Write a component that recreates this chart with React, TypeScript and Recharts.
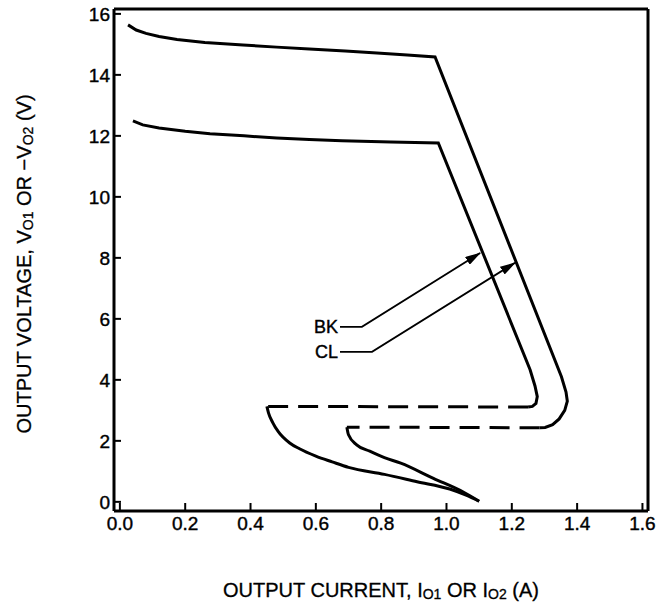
import React from "react";
import { LineChart, Line, XAxis, YAxis, ReferenceDot } from "recharts";

// axis ticks
const X_TICKS = [0, 0.2, 0.4, 0.6, 0.8, 1.0, 1.2, 1.4, 1.6];
const Y_TICKS = [0, 2, 4, 6, 8, 10, 12, 14, 16];
const X_DOMAIN: [number, number] = [-0.018, 1.617];
const Y_DOMAIN: [number, number] = [-0.3, 16.16];

// [current (A), voltage (V)]
const CL_MAIN: [number, number][] = [
  [0.025, 15.64], [0.05, 15.47], [0.08, 15.36], [0.12, 15.26], [0.175, 15.16],
  [0.26, 15.06], [0.377, 14.98], [0.48, 14.91], [0.58, 14.85], [0.69, 14.78],
  [0.787, 14.72], [0.88, 14.65], [0.965, 14.59], [1.352, 4.1], [1.366, 3.6],
  [1.37, 3.3], [1.362, 3.0], [1.345, 2.72], [1.325, 2.53], [1.302, 2.44], [1.285, 2.43],
];
const CL_DASH: [number, number][] = [[1.285, 2.43], [0.695, 2.45]];
const CL_TAIL: [number, number][] = [
  [0.695, 2.45], [0.7, 2.2], [0.725, 1.87], [0.765, 1.66], [0.81, 1.45],
  [0.86, 1.27], [0.96, 0.77], [1.05, 0.33], [1.1, 0.02],
];

const BK_MAIN: [number, number][] = [
  [0.04, 12.49], [0.07, 12.36], [0.12, 12.26], [0.2, 12.15], [0.276, 12.07],
  [0.38, 12.0], [0.48, 11.93], [0.58, 11.88], [0.68, 11.84], [0.83, 11.8],
  [0.975, 11.77], [1.256, 4.33], [1.271, 3.8], [1.278, 3.45], [1.274, 3.23],
  [1.263, 3.13], [1.25, 3.11],
];
const BK_DASH: [number, number][] = [[1.25, 3.11], [0.45, 3.13]];
const BK_TAIL: [number, number][] = [
  [0.45, 3.13], [0.455, 2.92], [0.468, 2.6], [0.485, 2.3], [0.52, 1.93],
  [0.55, 1.74], [0.6, 1.5], [0.65, 1.31], [0.7, 1.13], [0.81, 0.9],
  [0.91, 0.66], [1.01, 0.42], [1.06, 0.22], [1.1, 0.02],
];

// leader lines for the labels
const BK_LEADER: [number, number][] = [[0.674, 5.74], [0.741, 5.74], [1.103, 8.16]];
const CL_LEADER: [number, number][] = [[0.674, 4.92], [0.772, 4.92], [1.21, 7.84]];

const FONT = "'Liberation Sans', Arial, Helvetica, sans-serif";

const pts = (arr: [number, number][]) => arr.map(([i, v]) => ({ i, v }));

const XTitle = (props: any) => {
  const vb = props.viewBox;
  const cx = vb.x + vb.width / 2;
  const y = vb.y + 86;
  return (
    <text x={cx} y={y} textAnchor="middle" fontFamily={FONT} fontSize={20} fill="#000" stroke="#000" strokeWidth={0.3}>
      OUTPUT CURRENT, I<tspan fontSize={14} dy={2}>O1</tspan>
      <tspan dy={-2}> OR I</tspan>
      <tspan fontSize={14} dy={2}>O2</tspan>
      <tspan dy={-2}> (A)</tspan>
    </text>
  );
};

const YTitle = (props: any) => {
  const vb = props.viewBox;
  const x = vb.x + 31;
  const y = vb.y + vb.height / 2 + 4;
  return (
    <text
      x={x}
      y={y}
      transform={`rotate(-90, ${x}, ${y})`}
      textAnchor="middle"
      fontFamily={FONT}
      fontSize={20}
      fill="#000"
      stroke="#000"
      strokeWidth={0.3}
    >
      OUTPUT VOLTAGE, V<tspan fontSize={14} dy={2}>O1</tspan>
      <tspan dy={-2}> OR −V</tspan>
      <tspan fontSize={14} dy={2}>O2</tspan>
      <tspan dy={-2}> (V)</tspan>
    </text>
  );
};

const solid = { stroke: "#000", strokeWidth: 3, dot: false, activeDot: false, isAnimationActive: false, type: "linear" as const };

export default function App() {
  const tickStyle = { fill: "#000", stroke: "#000", strokeWidth: 0.4, fontSize: 19, fontFamily: FONT };
  const axisLine = { stroke: "#000", strokeWidth: 3 };
  const tickLine = { stroke: "#000", strokeWidth: 2 };
  const labelStyle = { position: "left" as const, offset: 2, fill: "#000", stroke: "#000", strokeWidth: 0.4, fontSize: 18, fontFamily: FONT };
  return (
    <div style={{ position: "absolute", left: 0, top: 0, background: "#fff" }}>
      <svg width={0} height={0} style={{ position: "absolute" }}>
        <defs>
          <marker
            id="arrowHead"
            viewBox="0 0 16 9"
            refX={15}
            refY={4.5}
            markerWidth={16}
            markerHeight={9}
            markerUnits="userSpaceOnUse"
            orient="auto"
          >
            <path d="M0,0 L16,4.5 L0,9 Z" fill="#000" />
          </marker>
        </defs>
      </svg>
      <LineChart width={668} height={606} margin={{ top: 8, right: 19, bottom: 0, left: 0 }}>
        <XAxis
          dataKey="i"
          type="number"
          domain={X_DOMAIN}
          allowDataOverflow
          ticks={X_TICKS}
          interval={0}
          tickFormatter={(v: number) => v.toFixed(1)}
          height={95}
          tickSize={-8}
          tickMargin={14}
          tick={tickStyle}
          axisLine={axisLine}
          tickLine={tickLine}
          label={{ content: XTitle }}
        />
        <XAxis
          xAxisId="top"
          orientation="top"
          type="number"
          domain={X_DOMAIN}
          allowDataOverflow
          height={1}
          tick={false}
          tickLine={false}
          axisLine={axisLine}
        />
        <YAxis
          dataKey="v"
          type="number"
          domain={Y_DOMAIN}
          allowDataOverflow
          ticks={Y_TICKS}
          interval={0}
          width={114}
          tickSize={-7}
          tickMargin={11}
          tick={tickStyle}
          axisLine={axisLine}
          tickLine={tickLine}
          label={{ content: YTitle }}
        />
        <YAxis
          yAxisId="right"
          orientation="right"
          type="number"
          domain={Y_DOMAIN}
          allowDataOverflow
          ticks={Y_TICKS}
          interval={0}
          width={1}
          tickSize={-7}
          tick={false}
          axisLine={axisLine}
          tickLine={tickLine}
        />

        <Line data={pts(CL_MAIN)} dataKey="v" {...solid} />
        <Line data={pts(CL_DASH)} dataKey="v" {...solid} strokeDasharray="20 10" />
        <Line data={pts(CL_TAIL)} dataKey="v" {...solid} type="monotone" />
        <Line data={pts(BK_MAIN)} dataKey="v" {...solid} />
        <Line data={pts(BK_DASH)} dataKey="v" {...solid} strokeDasharray="20 10" />
        <Line data={pts(BK_TAIL)} dataKey="v" {...solid} type="monotone" />

        <Line data={pts(BK_LEADER)} dataKey="v" {...solid} strokeWidth={1.8} markerEnd="url(#arrowHead)" />
        <Line data={pts(CL_LEADER)} dataKey="v" {...solid} strokeWidth={1.8} markerEnd="url(#arrowHead)" />

        <ReferenceDot
          x={BK_LEADER[0][0]}
          y={BK_LEADER[0][1]}
          r={0}
          fill="none"
          stroke="none"
          label={{ value: "BK", ...labelStyle }}
        />
        <ReferenceDot
          x={CL_LEADER[0][0]}
          y={CL_LEADER[0][1]}
          r={0}
          fill="none"
          stroke="none"
          label={{ value: "CL", ...labelStyle }}
        />
      </LineChart>
    </div>
  );
}
